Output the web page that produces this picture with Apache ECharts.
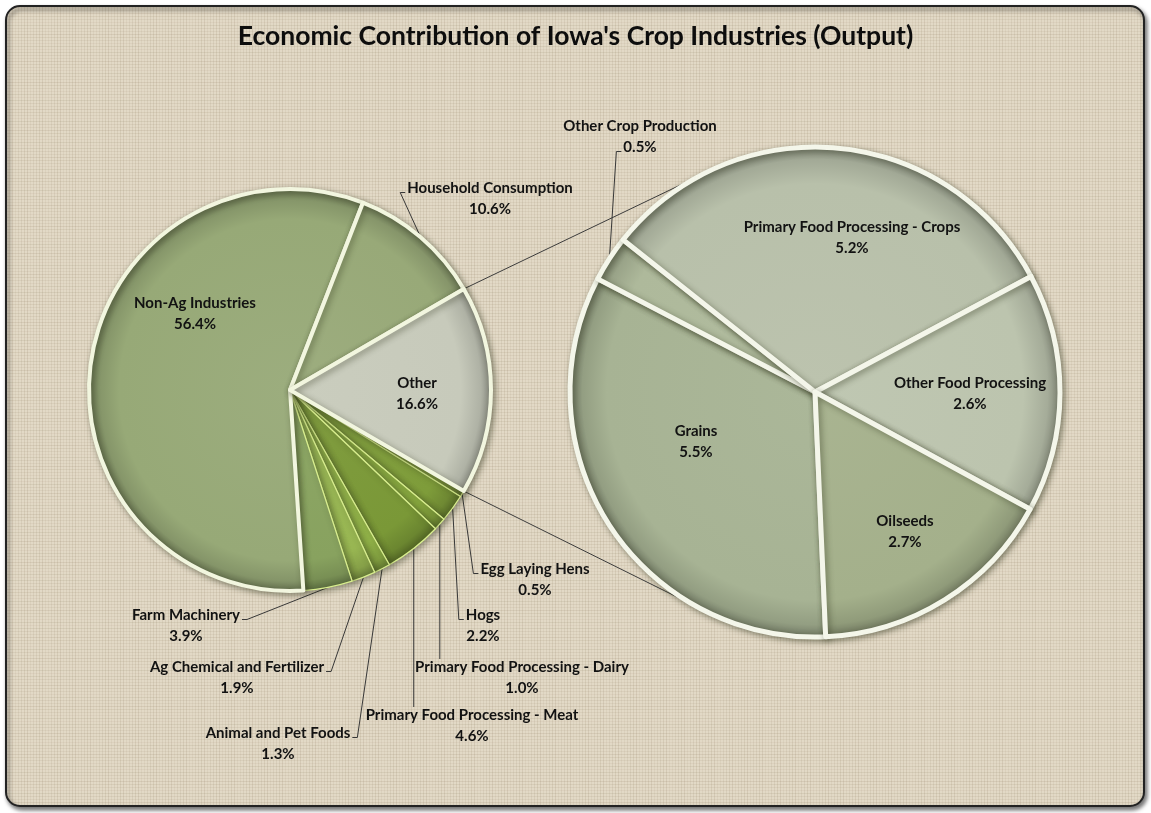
<!DOCTYPE html>
<html>
<head>
<meta charset="utf-8">
<title>Economic Contribution of Iowa's Crop Industries (Output)</title>
<script src="https://cdn.jsdelivr.net/npm/echarts@6/dist/echarts.min.js"></script>
<style>
  html, body { margin: 0; padding: 0; background: #ffffff; }
  #chart { position: absolute; left: 0; top: 0; width: 1151px; height: 813px; }
</style>
</head>
<body>
<div id="chart"></div>
<script>
// ---- data ----
const titleText = "Economic Contribution of Iowa's Crop Industries (Output)";

// first pie (clockwise from the lower edge of "Other")
const mainNames = [
  'Egg Laying Hens', 'Hogs', 'Primary Food Processing - Dairy',
  'Primary Food Processing - Meat', 'Animal and Pet Foods',
  'Ag Chemical and Fertilizer', 'Farm Machinery', 'Non-Ag Industries',
  'Household Consumption', 'Other'
];
const mainValues = [0.5, 2.2, 1.0, 4.6, 1.3, 1.9, 3.9, 56.4, 10.6, 16.6];

// second pie: breakdown of "Other"
const detailNames = [
  'Grains', 'Other Crop Production', 'Primary Food Processing - Crops',
  'Other Food Processing', 'Oilseeds'
];
const detailValues = [5.5, 0.5, 5.2, 2.6, 2.7];

// ---- styling / layout ----
const FONT_FAMILY = 'Lato';
const FONT_SIZE = 15;
const LINE_H = 21;
const mainColors = ['#96b44a', '#7e9c3a', '#8aab40', '#7a9837', '#91b248',
                    '#98b652', '#88a25f', '#97a977', '#98a978', '#c7cabb'];
const detailColors = ['#a7b394', '#aeb99b', '#b8c0aa', '#bcc4ae', '#a4b08b'];

const L = { cx: 290, cy: 390, r: 201 };
const R = { cx: 815, cy: 392, r: 245, start: 272.5 };

// label anchor points (centre of the two-line label) and how the leader meets it
const mainLabelSpots = [
  [535, 580], [483, 626], [522, 678], [472, 726], [278, 744],
  [237, 678], [186, 626], [195, 314], [490, 199], [417, 394]
];
const mainLeader = [
  { side: 'left', line: 1 }, { side: 'left', line: 1 }, { side: 'top' }, { side: 'top' },
  { side: 'right', line: 1 }, { side: 'right', line: 1 }, { side: 'right', line: 1 },
  null, { side: 'left', line: 1 }, null
];
const detailLabelSpots = [[696, 442], [640, 137], [852, 238], [970, 394], [905, 532]];
const detailLeader = [null, { side: 'left', line: 2 }, null, null, null];

function shadeHex(hex, f) {
  const n = parseInt(hex.slice(1), 16);
  const ch = [(n >> 16) & 255, (n >> 8) & 255, n & 255].map(v =>
    Math.max(0, Math.min(255, Math.round(f < 0 ? v * (1 + f) : v + (255 - v) * f))));
  return 'rgb(' + ch.join(',') + ')';
}

// rim shading centred on each pie
function rimFill(base, pie) {
  return {
    type: 'radial', x: pie.cx, y: pie.cy, r: pie.r, global: true,
    colorStops: [
      { offset: 0, color: shadeHex(base, 0.05) },
      { offset: 0.85, color: base },
      { offset: 0.95, color: shadeHex(base, -0.12) },
      { offset: 1, color: shadeHex(base, -0.32) }
    ]
  };
}

// woven linen backdrop
function linenTexture() {
  const c = document.createElement('canvas');
  c.width = 48; c.height = 48;
  const g = c.getContext('2d');
  g.fillStyle = '#e2d9c6';
  g.fillRect(0, 0, 48, 48);
  for (let i = 0; i < 48; i += 3) {
    const a = 0.08 + 0.07 * ((i * 7) % 5) / 4;
    g.fillStyle = 'rgba(135,115,85,' + a.toFixed(3) + ')';
    g.fillRect(i, 0, 1, 48);
    const b = 0.07 + 0.07 * ((i * 11) % 7) / 6;
    g.fillStyle = 'rgba(135,115,85,' + b.toFixed(3) + ')';
    g.fillRect(0, i + 1, 48, 1);
  }
  return c;
}

const labelBase = {
  color: '#121212', fontFamily: FONT_FAMILY, fontWeight: 'bold',
  fontSize: FONT_SIZE, lineHeight: LINE_H, align: 'center'
};
const pct = v => v.toFixed(1) + '%';
const fmt = p => p.name + '\n' + pct(p.value);

// text widths for placing leader ends against a label line
const measureCtx = document.createElement('canvas').getContext('2d');
measureCtx.font = 'bold ' + FONT_SIZE + 'px ' + FONT_FAMILY;
const textW = s => measureCtx.measureText(s).width;

function leaderPoints(spot, spec, name, value, start) {
  const [cx, cy] = spot;
  const top = cy - LINE_H;
  if (spec.side === 'top') {
    return [start, [start[0], top + 2]];
  }
  const lineText = spec.line === 1 ? name : pct(value);
  const w = textW(lineText);
  const y = top + (spec.line - 0.5) * LINE_H + 4;
  if (spec.side === 'left') {
    const xl = cx - w / 2;
    return [start, [xl - 7, y], [xl - 2, y]];
  }
  const xr = cx + w / 2;
  return [start, [xr + 7, y], [xr + 2, y]];
}

function makeLayout(spots, leaders, names, values) {
  return p => {
    const i = p.dataIndex;
    const out = { x: spots[i][0], y: spots[i][1], align: 'center', verticalAlign: 'middle' };
    if (leaders[i] && p.labelLinePoints) {
      out.labelLinePoints = leaderPoints(spots[i], leaders[i], names[i], values[i], p.labelLinePoints[0]);
    }
    return out;
  };
}

const sumMain = mainValues.reduce((a, b) => a + b, 0);
const otherHalf = mainValues[mainValues.length - 1] / sumMain * 180;

const mainData = mainNames.map((name, i) => {
  const big = i >= 7;
  return {
    name: name, value: mainValues[i],
    itemStyle: {
      color: rimFill(mainColors[i], L),
      borderColor: big ? '#f2f6df' : '#d8ee8e',
      borderWidth: big ? 4 : 1.3
    },
    label: { position: mainLeader[i] ? 'outside' : 'inside' },
    labelLine: { show: !!mainLeader[i] }
  };
});

const detailData = detailNames.map((name, i) => ({
  name: name, value: detailValues[i],
  itemStyle: {
    color: rimFill(detailColors[i], R),
    borderColor: '#f4f6ea', borderWidth: 5
  },
  label: { position: detailLeader[i] ? 'outside' : 'inside' },
  labelLine: { show: !!detailLeader[i] }
}));

// connector lines from the edges of "Other" to the second pie
const rad = d => d * Math.PI / 180;
function onCircle(p, deg) {
  return [p.cx + p.r * Math.cos(rad(deg)), p.cy - p.r * Math.sin(rad(deg))];
}
const connectAngle = 117.5;
const connectors = [
  [onCircle(L, otherHalf), onCircle(R, connectAngle)],
  [onCircle(L, -otherHalf), onCircle(R, -connectAngle)]
].map(pts => ({
  type: 'polyline', z: 1, silent: true,
  shape: { points: pts },
  style: { stroke: '#3c3c3c', lineWidth: 1, fill: null }
}));

const W = 1151, H = 813;
const chart = echarts.init(document.getElementById('chart'), null, { renderer: 'canvas', width: W, height: H });

const pieCommon = {
  type: 'pie',
  clockwise: true,
  silent: true,
  animation: false,
  emphasis: { disabled: true },
  avoidLabelOverlap: false,
  label: Object.assign({ show: true, formatter: fmt }, labelBase),
  labelLine: { show: true, length: 8, length2: 4, smooth: false,
               lineStyle: { color: '#383838', width: 1 } },
  itemStyle: { shadowBlur: 6, shadowColor: 'rgba(40,45,20,0.45)', shadowOffsetX: 2, shadowOffsetY: 2 }
};

chart.setOption({
  backgroundColor: '#ffffff',
  animation: false,
  title: {
    text: titleText, left: 'center', top: 18,
    textStyle: { fontFamily: FONT_FAMILY, fontWeight: 'bold', fontSize: 26.5, color: '#0d0d0d' }
  },
  graphic: [
    {
      type: 'rect', z: -10, silent: true,
      shape: { x: 6, y: 6, width: 1138, height: 800, r: 14 },
      style: {
        fill: { image: linenTexture(), repeat: 'repeat' },
        stroke: '#222222', lineWidth: 2,
        shadowBlur: 4, shadowOffsetX: 2, shadowOffsetY: 3, shadowColor: 'rgba(0,0,0,0.55)'
      }
    }
  ].concat(connectors),
  series: [
    Object.assign({}, pieCommon, {
      name: 'Crop industries',
      center: [L.cx, L.cy], radius: [0, L.r],
      startAngle: -otherHalf,
      data: mainData,
      labelLayout: makeLayout(mainLabelSpots, mainLeader, mainNames, mainValues)
    }),
    Object.assign({}, pieCommon, {
      name: 'Other breakdown',
      center: [R.cx, R.cy], radius: [0, R.r],
      startAngle: R.start,
      data: detailData,
      labelLayout: makeLayout(detailLabelSpots, detailLeader, detailNames, detailValues)
    })
  ]
});
</script>
</body>
</html>
